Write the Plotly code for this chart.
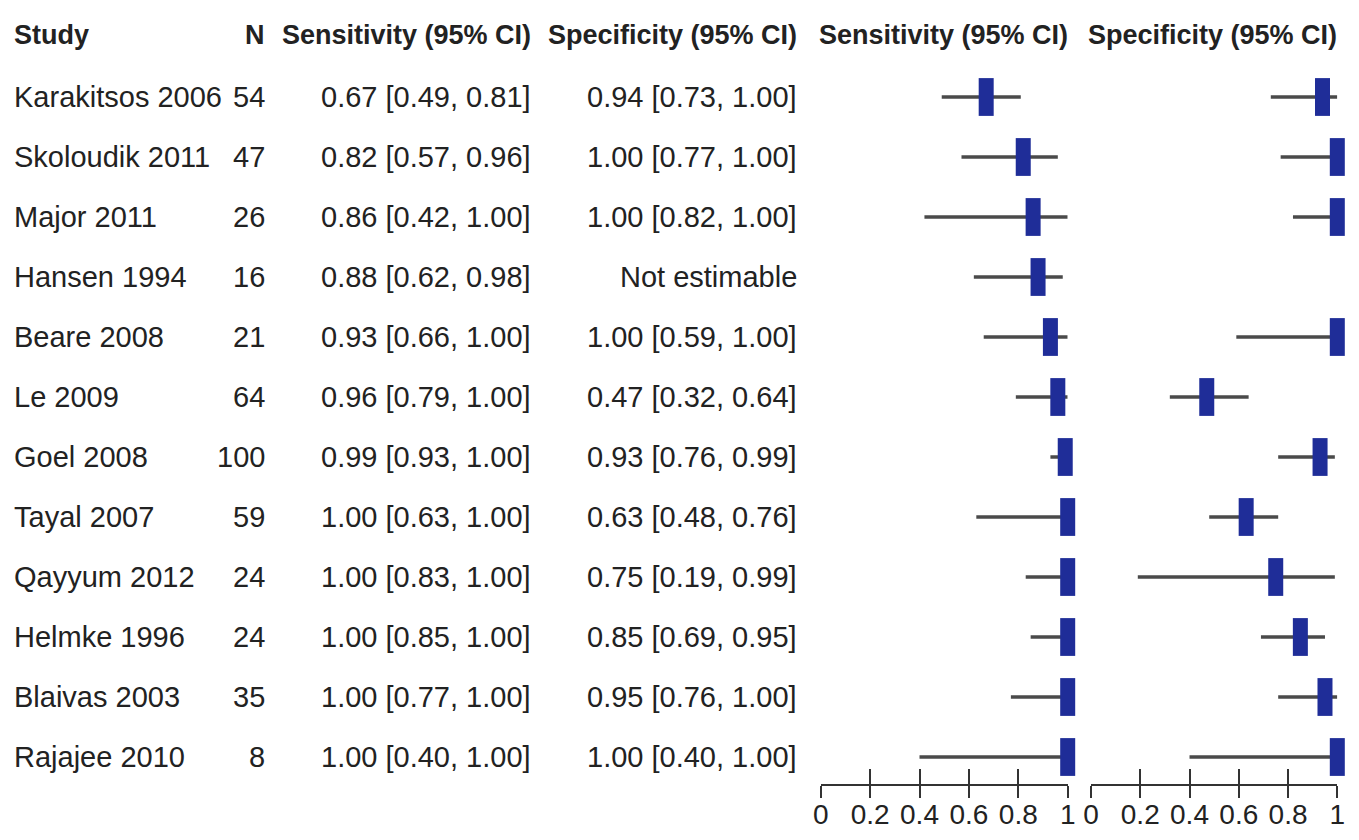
import plotly.graph_objects as go

studies = ["Karakitsos 2006", "Skoloudik 2011", "Major 2011", "Hansen 1994", "Beare 2008",
           "Le 2009", "Goel 2008", "Tayal 2007", "Qayyum 2012", "Helmke 1996",
           "Blaivas 2003", "Rajajee 2010"]
n_values = [54, 47, 26, 16, 21, 64, 100, 59, 24, 24, 35, 8]
sens = [0.67, 0.82, 0.86, 0.88, 0.93, 0.96, 0.99, 1.00, 1.00, 1.00, 1.00, 1.00]
sens_lo = [0.49, 0.57, 0.42, 0.62, 0.66, 0.79, 0.93, 0.63, 0.83, 0.85, 0.77, 0.40]
sens_hi = [0.81, 0.96, 1.00, 0.98, 1.00, 1.00, 1.00, 1.00, 1.00, 1.00, 1.00, 1.00]
spec = [0.94, 1.00, 1.00, None, 1.00, 0.47, 0.93, 0.63, 0.75, 0.85, 0.95, 1.00]
spec_lo = [0.73, 0.77, 0.82, None, 0.59, 0.32, 0.76, 0.48, 0.19, 0.69, 0.76, 0.40]
spec_hi = [1.00, 1.00, 1.00, None, 1.00, 0.64, 0.99, 0.76, 0.99, 0.95, 1.00, 1.00]
tick_vals = [0, 0.2, 0.4, 0.6, 0.8, 1]
tick_text = ["0", "0.2", "0.4", "0.6", "0.8", "1"]
headers = ["Study", "N", "Sensitivity (95% CI)", "Specificity (95% CI)",
           "Sensitivity (95% CI)", "Specificity (95% CI)"]

# page is drawn inside the default 8px body margin
OFF = 8
FW, FH = 1359 - 2 * OFF, 840 - 2 * OFF
FONT = "Liberation Sans, Arial, sans-serif"
TXT = "#222222"
BLUE = "#1f2d98"
GREY = "#4a4a4a"
AX = "#333333"

rows = list(range(len(studies)))


def fmt(e, lo, hi):
    if e is None:
        return "Not estimable"
    return f"{e:.2f} [{lo:.2f}, {hi:.2f}]"


def err(est, lo, hi):
    plus = [None if e is None else h - e for e, h in zip(est, hi)]
    minus = [None if e is None else e - l for e, l in zip(est, lo)]
    return plus, minus


def px(x):
    """page pixel x -> paper fraction"""
    return (x - OFF) / FW


fig = go.Figure()
panels = [(sens, sens_lo, sens_hi, "x", "x3"), (spec, spec_lo, spec_hi, "x2", "x4")]
# confidence-interval lines on the main axes
for est, lo, hi, xa, _ in panels:
    plus, minus = err(est, lo, hi)
    fig.add_trace(go.Scatter(
        x=est, y=rows, xaxis=xa, yaxis="y", mode="markers",
        marker=dict(size=1, opacity=0),
        error_x=dict(type="data", symmetric=False, array=plus, arrayminus=minus,
                     width=0, thickness=3.5, color=GREY),
        cliponaxis=False, showlegend=False, hoverinfo="skip"))
# point estimates on the overlaying axes (drawn above the lines)
for est, lo, hi, _, xo in panels:
    fig.add_trace(go.Scatter(
        x=est, y=rows, xaxis=xo, yaxis="y", mode="markers",
        marker=dict(symbol="line-ns", size=27, color=BLUE,
                    line=dict(width=15, color=BLUE)),
        cliponaxis=False, showlegend=False, hoverinfo="skip"))

ann = []
col_x = [12, 267, 533, 799]
col_anchor = ["left", "right", "right", "right"]
header_y = -1.03
for i, s in enumerate(studies):
    vals = [s, str(n_values[i]), fmt(sens[i], sens_lo[i], sens_hi[i]),
            fmt(spec[i], spec_lo[i], spec_hi[i])]
    for v, cx, an in zip(vals, col_x, col_anchor):
        ann.append(dict(x=px(cx), y=i, xref="paper", yref="y", text=v,
                        xanchor=an, yanchor="middle", showarrow=False,
                        font=dict(family=FONT, size=29, color=TXT)))

hdr_x = [12, 267, 533, 799, 1070, 1339]
hdr_anchor = ["left", "right", "right", "right", "right", "right"]
for h, cx, an in zip(headers, hdr_x, hdr_anchor):
    ann.append(dict(x=px(cx), y=header_y, xref="paper", yref="y",
                    text="<b>" + h + "</b>", xanchor=an, yanchor="middle",
                    showarrow=False, font=dict(family=FONT, size=27, color=TXT)))

axis_common = dict(range=[0, 1], showgrid=False, zeroline=False, showline=True,
                   linecolor=AX, linewidth=2, anchor="y", automargin=False,
                   tickmode="array", tickvals=tick_vals, ticktext=tick_text,
                   ticks="outside", ticklen=12, tickwidth=2, tickcolor=AX,
                   tickangle=0, ticklabelstandoff=-8,
                   tickfont=dict(family=FONT, size=28, color=TXT), fixedrange=True)
overlay_common = dict(range=[0, 1], showgrid=False, zeroline=False, showline=False,
                      anchor="y", automargin=False, tickmode="array",
                      tickvals=tick_vals, ticks="inside", ticklen=15, tickwidth=2,
                      tickcolor=AX, showticklabels=False, fixedrange=True)

dom1 = [px(820.7), px(1067.7)]
dom2 = [px(1091), px(1337.3)]

axis_y = 784  # page pixel of the x axis line
row0_y, row_step = 97, 60
top_row = (OFF - row0_y) / row_step
bot_row = (axis_y - row0_y) / row_step

fig.update_layout(
    width=FW, height=FH,
    margin=dict(l=0, r=0, t=0, b=0, autoexpand=False),
    paper_bgcolor="white", plot_bgcolor="rgba(0,0,0,0)",
    xaxis=dict(domain=dom1, **axis_common),
    xaxis2=dict(domain=dom2, **axis_common),
    xaxis3=dict(domain=dom1, overlaying="x", **overlay_common),
    xaxis4=dict(domain=dom2, overlaying="x2", **overlay_common),
    yaxis=dict(domain=[(FH - (axis_y - OFF)) / FH, 1], range=[bot_row, top_row],
               visible=False, fixedrange=True, automargin=False),
    annotations=ann,
)

fig.write_html("out.html")
